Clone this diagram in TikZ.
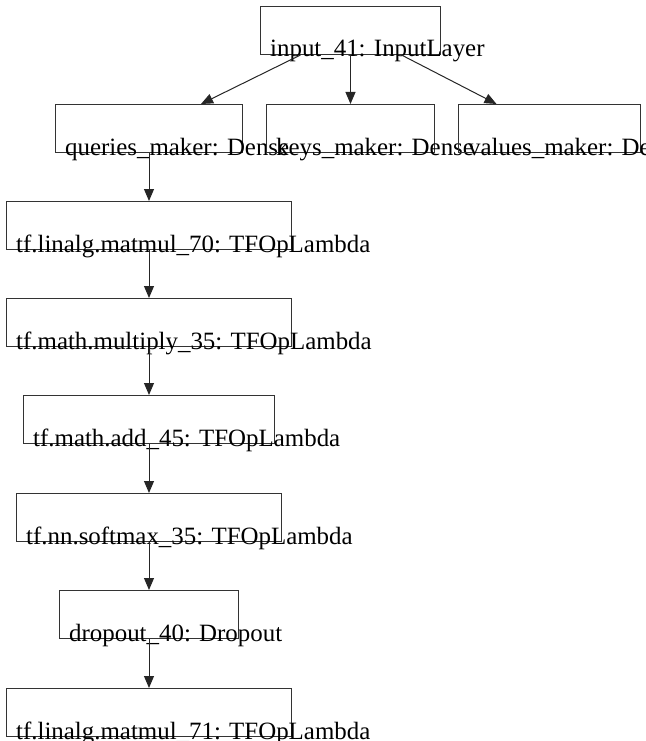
\documentclass[tikz,border=0pt]{standalone}
\usepackage{fontspec}
\setmainfont{Liberation Serif}
\usetikzlibrary{arrows.meta}
\tikzset{
  layer/.style={draw=black!80, line width=1pt, minimum height=48pt, inner sep=0pt, anchor=north west},
  lbl/.style={anchor=base west, inner sep=0pt, font=\fontsize{24.9}{30}\selectfont},
  arr/.style={draw=black!85, line width=1pt, -{Triangle[length=12pt,width=10pt]}}
}
\begin{document}
\begin{tikzpicture}[x=1pt,y=-1pt]
\useasboundingbox (0,0) rectangle (645,741);
\foreach \name/\x/\y/\w/\txt in {
    inp/260/6/180/input\_41: InputLayer,
    qm/55/104/187/queries\_maker: Dense,
    km/266/104/168/keys\_maker: Dense,
    vm/458/104/182/values\_maker: Dense,
    mmA/6/201/285/tf.linalg.matmul\_70: TFOpLambda,
    mul/6/298/285/tf.math.multiply\_35: TFOpLambda,
    add/23/395/251/tf.math.add\_45: TFOpLambda,
    sm/16/493/265/tf.nn.softmax\_35: TFOpLambda,
    drop/59/590/179/dropout\_40: Dropout,
    mmB/6/688/285/tf.linalg.matmul\_71: TFOpLambda}
{
  \node[layer, minimum width=\w pt] (\name) at (\x,\y) {};
  \node[lbl] (\name-t) at (\x+10,\y+51) {\txt};
}
\draw[arr] ([xshift=-50pt]inp.south) -- ([xshift=52pt]qm.north);
\draw[arr] (inp.south) -- (km.north);
\draw[arr] ([xshift=51pt]inp.south) -- ([xshift=-53pt]vm.north);
\foreach \a/\b in {qm/mmA, mmA/mul, mul/add, add/sm, sm/drop, drop/mmB}
  \draw[arr] (\a.south) -- (\b.north);
\end{tikzpicture}
\end{document}
